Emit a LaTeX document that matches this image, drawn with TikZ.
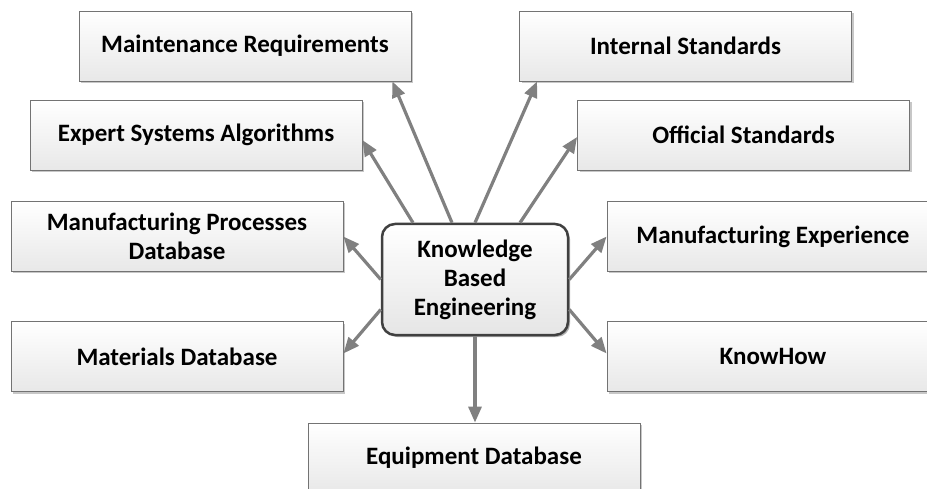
\documentclass[tikz,border=0pt]{standalone}
\usepackage{fontspec}
\setmainfont{Carlito}
\usetikzlibrary{arrows.meta,shadows}

\begin{document}
\begin{tikzpicture}[x=1pt,y=-1pt,->,>={Triangle[length=16pt,width=13pt]},
    every edge/.style={draw=black!50,line width=3.2pt},
    font=\fontsize{25}{29}\selectfont\bfseries,
    info node/.style={draw=black!55,line width=0.8pt,minimum width=332pt,minimum height=70pt,
      align=center,top color=white,bottom color=black!9,
      drop shadow={shadow xshift=2pt,shadow yshift=-2pt,fill=black!22,opacity=1}},
    main node/.style={draw=black!75,line width=2.5pt,rounded corners=13pt,
      minimum width=186pt,minimum height=111pt,align=center,inner sep=2pt,
      top color=white,bottom color=black!10,
      drop shadow={shadow xshift=2pt,shadow yshift=-2pt,fill=black!30,opacity=1}}]

    \useasboundingbox (0,0) rectangle (927,489);
    \clip (0,0) rectangle (927,489);

    \node[info node] (1) at (245,46) {Maintenance Requirements};
    \node[info node] (2) at (196,135) {Expert Systems Algorithms};
    \node[info node] (3) at (177,236.5) {Manufacturing Processes\\Database};
    \node[info node] (4) at (177,356.5) {Materials Database};
    \node[info node] (5) at (685.5,46) {Internal Standards};
    \node[info node] (6) at (743.5,135) {Official Standards};
    \node[info node] (7) at (773,236.5) {Manufacturing Experience};
    \node[info node] (8) at (773,356.5) {KnowHow};
    \node[info node] (9) at (474,458) {Equipment Database};

    \node[main node] (0) at (475,279.5) {Knowledge\\Based\\Engineering};

    \path ([xshift=-23pt]0.north) edge ([xshift=-19pt]1.south east);
    \path ([xshift=-62pt]0.north) edge ([yshift=-5pt]2.east);
    \path (0.west) edge (3.east);
    \path ([yshift=-30pt]0.west) edge ([yshift=3pt]4.east);

    \path (0.north) edge ([xshift=18pt]5.south west);
    \path ([xshift=45pt]0.north) edge ([yshift=-2pt]6.west);
    \path (0.east) edge (7.west);
    \path ([yshift=-30pt]0.east) edge ([yshift=3pt]8.west);

    \path (0.south) edge (0.south |- 9.north);
\end{tikzpicture}
\end{document}
